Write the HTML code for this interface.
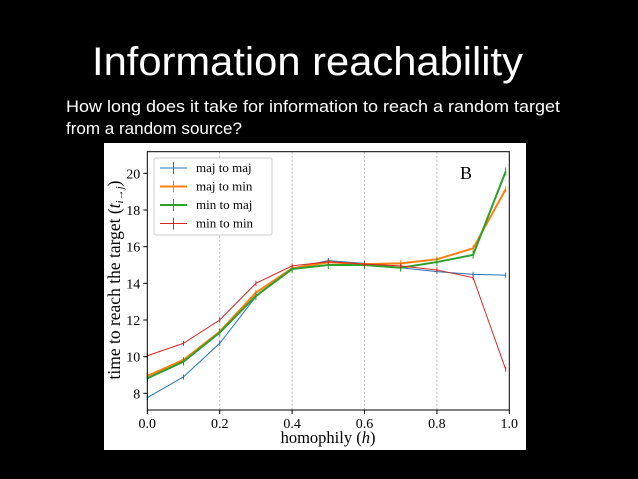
<!DOCTYPE html>
<html><head><meta charset="utf-8"><style>
body{margin:0;background:#000;width:638px;height:479px;overflow:hidden}
svg{display:block}
</style></head><body>
<svg id="s" width="638" height="479" xmlns="http://www.w3.org/2000/svg">
<rect width="638" height="479" fill="#000"/>
<text x="92" y="75" font-family="Liberation Sans, sans-serif" font-size="40" fill="#fff" textLength="431" lengthAdjust="spacingAndGlyphs">Information reachability</text>
<text x="66" y="112" font-family="Liberation Sans, sans-serif" font-size="17" fill="#fff" textLength="494" lengthAdjust="spacingAndGlyphs">How long does it take for information to reach a random target</text>
<text x="66" y="134" font-family="Liberation Sans, sans-serif" font-size="17" fill="#fff" textLength="176" lengthAdjust="spacingAndGlyphs">from a random source?</text>
<rect x="104" y="143" width="422" height="307" fill="#fff"/>
<g id="chart"></g>
</svg>
<script>
const hValues=[0,0.1,0.2,0.3,0.4,0.5,0.6,0.7,0.8,0.9,0.99];
const majToMaj=[7.76,8.9,10.73,13.27,14.82,15.24,15.09,14.85,14.64,14.49,14.45];
const majToMin=[8.95,9.82,11.36,13.49,14.82,15.15,15.05,15.09,15.31,15.91,19.13];
const minToMaj=[8.82,9.73,11.31,13.31,14.78,15.0,15.0,14.85,15.16,15.55,20.1];
const minToMin=[10.05,10.73,12.0,14.0,14.95,15.18,15.05,14.95,14.73,14.31,9.31];
const xTicks=[0,0.2,0.4,0.6,0.8,1.0];
const xTickLabels=["0.0","0.2","0.4","0.6","0.8","1.0"];
const yTicks=[8,10,12,14,16,18,20];
const seriesNames=["maj to maj","maj to min","min to maj","min to min"];

const NS="http://www.w3.org/2000/svg";
const g=document.getElementById('chart');
const L=147.3,R=509.3,T=151.7,B=410;
const xMin=0,xMax=1,yMin=7.09,yMax=21.18;
const xs=v=>L+(v-xMin)/(xMax-xMin)*(R-L);
const ys=v=>B-(v-yMin)/(yMax-yMin)*(B-T);
function el(tag,attrs,parent){const e=document.createElementNS(NS,tag);for(const k in attrs)e.setAttribute(k,attrs[k]);(parent||g).appendChild(e);return e;}
const serif='"Liberation Serif", "DejaVu Serif", serif';

[0.2,0.4,0.6,0.8].forEach(v=>{
 const e=el('line',{x1:xs(v),x2:xs(v),y1:T,y2:B,stroke:'#aaa','stroke-width':0.8,'stroke-dasharray':'2,2'});
 
 
});
const series=[[majToMaj,'#1f77b4',1,0],[majToMin,'#ff7f0e',2,3],[minToMaj,'#2ca02c',2,4],[minToMin,'#d62728',1,0]];
const snames=['series-maj-to-maj','series-maj-to-min','series-min-to-maj','series-min-to-min'];
series.forEach((s,i)=>{
 const pts=hValues.map((h,j)=>xs(h)+','+ys(s[0][j])).join(' ');
 const pl=el('polyline',{points:pts,fill:'none',stroke:s[1],'stroke-width':s[2]});
 
 
 hValues.forEach((h,j)=>{
  const y=ys(s[0][j]);const e=s[3]||2.5;
  const m=el('line',{x1:xs(h),x2:xs(h),y1:y-e,y2:y+e,stroke:s[1],'stroke-width':1});
  
  
 });
});
const fr=el('rect',{x:L,y:T,width:R-L,height:B-T,fill:'none',stroke:'#000','stroke-width':1});


xTicks.forEach((v,i)=>{
 const t=el('line',{x1:xs(v),x2:xs(v),y1:B,y2:B+4,stroke:'#000'});
 
 
 const tx=el('text',{x:xs(v),y:B+18,'text-anchor':'middle','font-family':serif,'font-size':14});
 tx.textContent=xTickLabels[i];
 
 
});
yTicks.forEach(v=>{
 const t=el('line',{x1:L-4,x2:L,y1:ys(v),y2:ys(v),stroke:'#000'});
 
 
 const tx=el('text',{x:L-7,y:ys(v)+5,'text-anchor':'end','font-family':serif,'font-size':14});
 tx.textContent=String(v);
 
 
});
const xl=el('text',{x:328,y:443,'text-anchor':'middle','font-family':serif,'font-size':16.5});
xl.innerHTML='homophily (<tspan font-style="italic">h</tspan>)';


const yl=el('text',{x:0,y:0,'text-anchor':'middle','font-family':serif,'font-size':17.5,transform:'translate(120,280) rotate(-90)'});
yl.innerHTML='time to reach the target (<tspan font-style="italic">t</tspan><tspan font-size="11" dy="3"><tspan font-style="italic">i</tspan>→<tspan font-style="italic">j</tspan></tspan><tspan dy="-3">)</tspan>';


const lb=el('rect',{x:154,y:158,width:118,height:77,fill:'#fff',stroke:'#ccc','stroke-width':1,rx:2});


seriesNames.forEach((n,i)=>{
 const y=168+i*18.5;const s=series[i];
 const ln=el('line',{x1:160,x2:187,y1:y,y2:y,stroke:s[1],'stroke-width':s[2]});
 
 
 const vt=el('line',{x1:173.5,x2:173.5,y1:y-6,y2:y+6,stroke:s[1],'stroke-width':1});
 
 
 const tx=el('text',{x:196,y:y+4,'font-family':serif,'font-size':13});
 tx.textContent=n;
 
 
});
const bl=el('text',{x:460,y:179,'font-family':serif,'font-size':18});
bl.textContent='B';


</script>
</body></html>
